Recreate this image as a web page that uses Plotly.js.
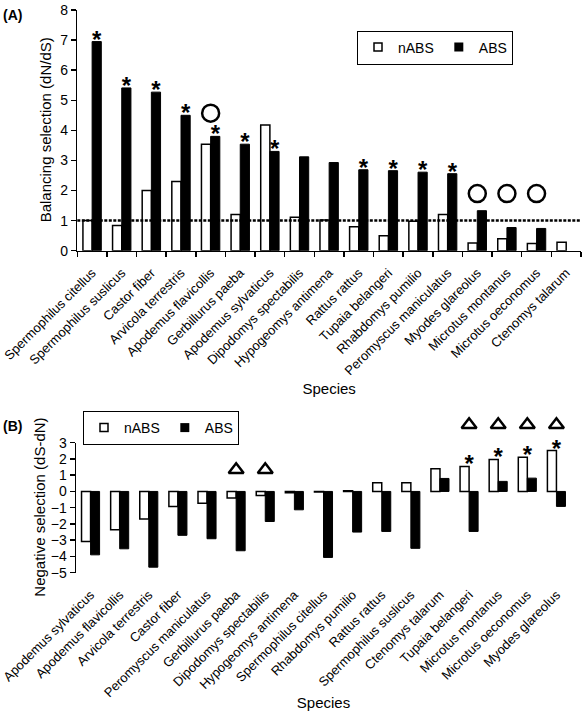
<!DOCTYPE html>
<html>
<head>
<meta charset="utf-8">
<script src="https://cdn.plot.ly/plotly-3.0.1.min.js"></script>
<style>html,body{margin:0;padding:0;background:#fff;}#chart{width:587px;height:716px;}</style>
</head>
<body>
<div id="chart"></div>
<script>
// ---- Panel A: balancing selection (dN/dS) ----
const speciesA = ["Spermophilus citellus","Spermophilus suslicus","Castor fiber","Arvicola terrestris","Apodemus flavicollis","Gerbillurus paeba","Apodemus sylvaticus","Dipodomys spectabilis","Hypogeomys antimena","Rattus rattus","Tupaia belangeri","Rhabdomys pumilio","Peromyscus maniculatus","Myodes glareolus","Microtus montanus","Microtus oeconomus","Ctenomys talarum"];
const nabsA = [1.0, 0.84, 2.0, 2.3, 3.54, 1.2, 4.18, 1.11, 1.02, 0.8, 0.5, 0.98, 1.2, 0.26, 0.4, 0.24, 0.28];
const absA  = [6.95, 5.41, 5.27, 4.5, 3.8, 3.54, 3.3, 3.12, 2.93, 2.69, 2.66, 2.61, 2.56, 1.33, 0.77, 0.74, null];
const starredAbsA = [true, true, true, true, true, true, true, false, false, true, true, true, true, false, false, false, false];
const circleSpecies = ["Apodemus flavicollis","Myodes glareolus","Microtus montanus","Microtus oeconomus"];
const circleY = [4.57, 1.9, 1.9, 1.9];
const neutralLevel = 1;
const titleA = "Balancing selection (dN/dS)";

// ---- Panel B: negative selection (dS-dN) ----
const speciesB = ["Apodemus sylvaticus","Apodemus flavicollis","Arvicola terrestris","Castor fiber","Peromyscus maniculatus","Gerbillurus paeba","Dipodomys spectabilis","Hypogeomys antimena","Spermophilus citellus","Rhabdomys pumilio","Rattus rattus","Spermophilus suslicus","Ctenomys talarum","Tupaia belangeri","Microtus montanus","Microtus oeconomus","Myodes glareolus"];
const nabsB = [-3.08, -2.36, -1.7, -0.92, -0.72, -0.41, -0.25, -0.08, -0.03, 0.05, 0.53, 0.53, 1.4, 1.54, 1.97, 2.11, 2.52];
const absB  = [-3.9, -3.53, -4.66, -2.7, -2.91, -3.65, -1.85, -1.13, -4.06, -2.5, -2.46, -3.5, 0.8, -2.46, 0.62, 0.82, -0.92];
const starredNabsB = [false, false, false, false, false, false, false, false, false, false, false, false, false, true, true, true, true];
const triangleSpecies = ["Gerbillurus paeba","Dipodomys spectabilis","Tupaia belangeri","Microtus montanus","Microtus oeconomus","Myodes glareolus"];
const triangleY = [1.33, 1.33, 4.1, 4.1, 4.1, 4.1];
const titleB = "Negative selection (dS-dN)";

const FONT = "Liberation Sans, Arial, Helvetica, sans-serif";
const W = 587, H = 716;
const yDomA = [1 - 250.7/H, 1 - 10/H];
const yDomB = [1 - 572.7/H, 1 - 442.7/H];
const yRangeB = [-5, 3];
const spanB = yRangeB[1] - yRangeB[0];
const zeroPosB = yDomB[0] + (0 - yRangeB[0]) / spanB * (yDomB[1] - yDomB[0]);
// taller invisible axis with the same scale as panel B, so marks above the panel are not clipped
const yRangeB3 = [yRangeB[0], 6];
const yDomB3 = [yDomB[0], yDomB[0] + (yRangeB3[1] - yRangeB3[0]) / spanB * (yDomB[1] - yDomB[0])];

const starFont = {family: FONT, size: 24, color: "black", weight: "bold"};
const titleFont = {family: FONT, size: 15, color: "black"};
const pick = (arr, mask) => arr.filter((_, i) => mask[i]);

const traces = [
  {type: "bar", x: speciesA, y: nabsA, name: "nABS", xaxis: "x", yaxis: "y", showlegend: false,
   marker: {color: "white", line: {color: "black", width: 1.5}}},
  {type: "bar", x: speciesA, y: absA, name: "ABS", xaxis: "x", yaxis: "y", showlegend: false,
   marker: {color: "black", line: {color: "black", width: 1}}},
  {type: "scatter", mode: "text", x: pick(speciesA, starredAbsA), y: pick(absA, starredAbsA),
   text: pick(speciesA, starredAbsA).map(() => "*"), textposition: "middle right", textfont: starFont,
   xaxis: "x", yaxis: "y", showlegend: false, cliponaxis: false},
  {type: "scatter", mode: "markers", x: circleSpecies, y: circleY, xaxis: "x", yaxis: "y",
   showlegend: false, cliponaxis: false,
   marker: {symbol: "circle-open", size: 17, color: "black", line: {width: 2.5, color: "black"}}},
  {type: "scatter", mode: "markers", x: [null], y: [null], name: "nABS", xaxis: "x", yaxis: "y", legend: "legend",
   marker: {symbol: "square", size: 8, color: "white", line: {color: "black", width: 1.5}}},
  {type: "scatter", mode: "markers", x: [null], y: [null], name: "ABS", xaxis: "x", yaxis: "y", legend: "legend",
   marker: {symbol: "square", size: 9, color: "black", line: {color: "black", width: 0}}},

  {type: "bar", x: speciesB, y: nabsB, name: "nABS", xaxis: "x2", yaxis: "y2", showlegend: false,
   marker: {color: "white", line: {color: "black", width: 1.5}}},
  {type: "bar", x: speciesB, y: absB, name: "ABS", xaxis: "x2", yaxis: "y2", showlegend: false,
   marker: {color: "black", line: {color: "black", width: 1}}},
  {type: "scatter", mode: "text", x: pick(speciesB, starredNabsB), y: pick(nabsB, starredNabsB),
   text: pick(speciesB, starredNabsB).map(() => "*"), textposition: "middle center", textfont: starFont,
   xaxis: "x2", yaxis: "y2", showlegend: false, cliponaxis: false},
  {type: "scatter", mode: "markers", x: triangleSpecies, y: triangleY, xaxis: "x2", yaxis: "y3",
   showlegend: false, cliponaxis: false,
   marker: {symbol: "triangle-up-open", size: 13, color: "black", line: {width: 2.5, color: "black"}}},
  {type: "scatter", mode: "markers", x: [null], y: [null], name: "nABS", xaxis: "x2", yaxis: "y2", legend: "legend2",
   marker: {symbol: "square", size: 8, color: "white", line: {color: "black", width: 1.5}}},
  {type: "scatter", mode: "markers", x: [null], y: [null], name: "ABS", xaxis: "x2", yaxis: "y2", legend: "legend2",
   marker: {symbol: "square", size: 9, color: "black", line: {color: "black", width: 0}}}
];

const baseX = {
  type: "category", categoryorder: "array", range: [-0.5, 16.5],
  showgrid: false, zeroline: false, automargin: false, fixedrange: true,
  tickangle: -45, tickfont: {family: FONT, size: 13, color: "black"}
};
const baseY = {
  showgrid: false, zeroline: false, automargin: false, fixedrange: true,
  showline: true, linecolor: "black", linewidth: 1.5, ticks: "outside", ticklen: 5, tickcolor: "black", tickwidth: 1.5,
  dtick: 1, tickfont: {family: FONT, size: 14, color: "black"}
};

const layout = {
  width: W, height: H,
  margin: {l: 0, r: 0, t: 0, b: 0},
  paper_bgcolor: "white", plot_bgcolor: "rgba(0,0,0,0)",
  font: {family: FONT, color: "black", size: 13},
  barmode: "group", bargap: 0.38, bargroupgap: 0,
  xaxis: Object.assign({}, baseX, {
    domain: [77.3/W, 581/W], anchor: "y", categoryarray: speciesA,
    showline: true, linecolor: "black", linewidth: 1.5,
    ticks: "outside", tickson: "boundaries", ticklen: 5, tickcolor: "black", tickwidth: 1.5,
    ticklabelstandoff: 8,
    title: {text: "Species", font: titleFont}
  }),
  yaxis: Object.assign({}, baseY, {domain: yDomA, anchor: "x", range: [0, 8]}),
  xaxis2: Object.assign({}, baseX, {
    domain: [76/W, 571/W], anchor: "y2", categoryarray: speciesB,
    showline: false, ticks: "", ticklabelstandoff: 11,
    title: {text: "Species", font: titleFont}
  }),
  yaxis2: Object.assign({}, baseY, {domain: yDomB, anchor: "x2", range: yRangeB}),
  yaxis3: {
    domain: yDomB3, anchor: "x2", range: yRangeB3, visible: false, fixedrange: true,
    showgrid: false, zeroline: false
  },
  xaxis3: {
    type: "category", categoryorder: "array", categoryarray: speciesB, range: [-0.5, 16.5],
    overlaying: "x2", anchor: "free", position: zeroPosB,
    showline: true, linecolor: "black", linewidth: 1.5,
    ticks: "outside", tickson: "boundaries", ticklen: 4, tickcolor: "black", tickwidth: 1.5,
    showticklabels: false, showgrid: false, zeroline: false, automargin: false, fixedrange: true
  },
  legend: {
    orientation: "h", x: 435/W, xanchor: "center", y: 1 - 47.5/H, yanchor: "middle",
    bordercolor: "black", borderwidth: 1, bgcolor: "white",
    font: {family: FONT, size: 14, color: "black"}, itemwidth: 30
  },
  legend2: {
    orientation: "h", x: 161/W, xanchor: "center", y: 1 - 428/H, yanchor: "middle",
    bordercolor: "black", borderwidth: 1, bgcolor: "white",
    font: {family: FONT, size: 14, color: "black"}, itemwidth: 30
  },
  shapes: [
    {type: "line", xref: "x domain", yref: "y", x0: 0, x1: 1, y0: neutralLevel, y1: neutralLevel,
     line: {color: "black", width: 2.5, dash: "3px,1.5px"}, layer: "above"}
  ],
  annotations: [
    {text: titleA, textangle: -90, xref: "paper", yref: "y domain", x: 45/W, y: 0.5,
     xanchor: "center", yanchor: "middle", showarrow: false, font: titleFont},
    {text: titleB, textangle: -90, xref: "paper", yref: "y2 domain", x: 40/W, y: 0.5,
     xanchor: "center", yanchor: "middle", showarrow: false, font: titleFont},
    {text: "<b>(A)</b>", xref: "paper", yref: "paper", x: 1/W, y: 1 - 15/H, xanchor: "left", yanchor: "middle",
     showarrow: false, font: {family: FONT, size: 14, color: "black"}},
    {text: "<b>(B)</b>", xref: "paper", yref: "paper", x: 1/W, y: 1 - 426/H, xanchor: "left", yanchor: "middle",
     showarrow: false, font: {family: FONT, size: 14, color: "black"}}
  ]
};

Plotly.newPlot("chart", traces, layout, {displayModeBar: false, staticPlot: true});
</script>
</body>
</html>
